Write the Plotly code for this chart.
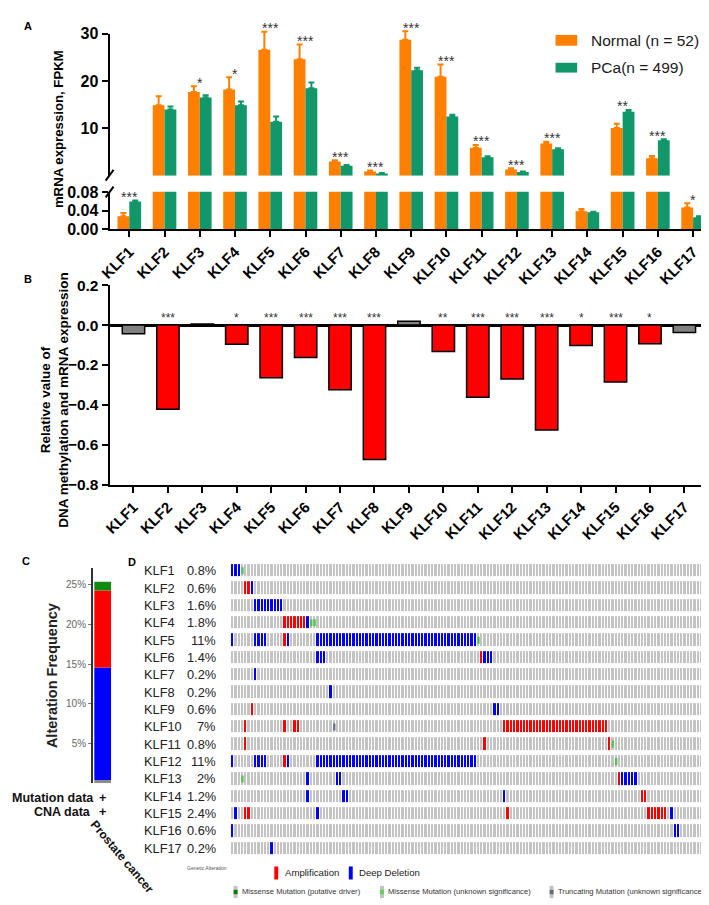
import plotly.graph_objects as go

W, H = 709, 905
FONT = "Liberation Sans, Arial, Helvetica, sans-serif"


def px(x):
    return x / W


def py(y):
    return 1 - y / H


# ---------------- data ----------------
genes = ["KLF1", "KLF2", "KLF3", "KLF4", "KLF5", "KLF6", "KLF7", "KLF8", "KLF9",
         "KLF10", "KLF11", "KLF12", "KLF13", "KLF14", "KLF15", "KLF16", "KLF17"]

# Panel A: mRNA expression (FPKM), mean and SEM
normal_mean = [0.028, 14.9, 17.7, 18.2, 26.6, 24.6, 3.0, 0.9, 28.7, 20.9, 5.9, 1.3, 6.8, 0.039, 10.1, 3.7, 0.047]
normal_sem = [0.007, 1.9, 1.2, 2.6, 3.8, 3.1, 0.3, 0.2, 1.8, 2.6, 0.6, 0.3, 0.4, 0.005, 0.9, 0.5, 0.009]
pca_mean = [0.060, 14.0, 16.5, 14.9, 11.4, 18.5, 2.1, 0.5, 22.3, 12.5, 3.9, 0.8, 5.6, 0.037, 13.5, 7.5, 0.026]
pca_sem = [0.002, 0.6, 0.5, 0.8, 1.1, 1.2, 0.2, 0.1, 0.5, 0.4, 0.2, 0.1, 0.2, 0.001, 0.4, 0.2, 0.002]
a_sig = ["***", "", "*", "*", "***", "***", "***", "***", "***", "***", "***", "***", "***", "", "**", "***", "*"]
legend_names = ["Normal (n = 52)", "PCa(n = 499)"]

# Panel B: relative value of DNA methylation and mRNA expression
b_value = [-0.043, -0.422, 0.005, -0.096, -0.264, -0.163, -0.325, -0.675, 0.019,
           -0.133, -0.362, -0.270, -0.527, -0.102, -0.285, -0.093, -0.037]
b_sig = ["", "***", "", "*", "***", "***", "***", "***", "", "**", "***", "***", "***", "*", "***", "*", ""]
b_signif_gene = [s != "" for s in b_sig]

# Panel C: alteration frequency (%) in prostate cancer
c_alteration = ["Multiple alterations", "Deep Deletion", "Amplification", "Mutation"]
c_freq = [0.4, 14.2, 9.7, 1.1]
c_colors = ["#8c8c8c", "#0000ff", "#ff0000", "#108a10"]
c_ticks = [5, 10, 15, 20, 25]

# Panel D: oncoprint (sample columns with each alteration type)
d_pct = ["0.8%", "0.6%", "1.6%", "1.8%", "11%", "1.4%", "0.2%", "0.2%", "0.6%",
         "7%", "0.8%", "11%", "2%", "1.2%", "2.4%", "0.6%", "0.2%"]
d_amp = [[], [4, 5], [], list(range(16, 23)), [16], [76], [], [], [6],
         [4, 16, 19, 20] + list(range(83, 115)), [4, 77, 115], [16], [118], [125, 126],
         [4, 5, 84] + list(range(127, 133)), [], []]
d_del = [[0, 1, 2], [6], list(range(7, 16)), [23], [0, 7, 8, 9, 10, 17] + list(range(26, 75)),
         [26, 27, 28, 77, 78, 79], [7], [30], [80, 81], [], [],
         [0, 7, 8, 9, 10, 17] + list(range(26, 75)), [23, 32, 33] + list(range(119, 124)),
         [23, 34, 35, 83], [1, 26, 134], [0, 135, 136], [12]]
d_mis = [[3], [], [], [24, 25], [75], [], [], [], [], [], [116], [117], [3], [], [], [], []]
d_trunc = [[], [], [], [], [], [], [], [], [], [31], [], [], [], [], [], [], []]
d_ncols = 148

ORANGE = "#ff8000"
GREEN = "#11976a"

fig = go.Figure()

# ---------------- Panel A ----------------
LOW_MAX = 0.0808
UP_BOTTOM, UP_TOP30 = 162.0, 17.0          # pixel rows of 0 and 30 in the upper segment
UP_PX = (UP_BOTTOM - UP_TOP30) / 30.0      # px per FPKM unit in upper segment
UP_RANGE_MAX = 32.0                        # room for error bars above 30
LOW_PX = 475.0                             # px per FPKM unit in lower segment

idx = list(range(len(genes)))
for mean, sem, col, name, og in [(normal_mean, normal_sem, ORANGE, legend_names[0], "n"),
                                  (pca_mean, pca_sem, GREEN, legend_names[1], "p")]:
    fig.add_trace(go.Bar(
        x=idx, y=mean, marker=dict(color=col, line=dict(width=0)), name=name,
        offsetgroup=og, showlegend=False, xaxis="x", yaxis="y",
        error_y=dict(type="data", array=sem, arrayminus=[0] * len(sem), symmetric=False,
                     color=col, thickness=2, width=3)))
    up = [v if v > LOW_MAX else None for v in mean]
    fig.add_trace(go.Bar(
        x=idx, y=up, marker=dict(color=col, line=dict(width=0)), name=name,
        offsetgroup=og, showlegend=False, xaxis="x2", yaxis="y2",
        error_y=dict(type="data", array=sem, arrayminus=[0] * len(sem), symmetric=False,
                     color=col, thickness=2, width=3)))
# empty trace so that the visible upper axis (x6/y6) is drawn
fig.add_trace(go.Scatter(x=[], y=[], xaxis="x6", yaxis="y6", showlegend=False))

annotations = []
shapes = []

for i, s in enumerate(a_sig):
    if not s:
        continue
    top = max(normal_mean[i] + normal_sem[i], pca_mean[i] + pca_sem[i])
    if top > LOW_MAX:
        annotations.append(dict(x=i, y=top + 3.7 / UP_PX, xref="x2", yref="y2", text=s,
                                showarrow=False, xanchor="center", yanchor="middle",
                                font=dict(family=FONT, size=14, color="#333")))
    else:
        annotations.append(dict(x=i, y=top + 3.7 / LOW_PX, xref="x", yref="y", text=s,
                                showarrow=False, xanchor="center", yanchor="middle",
                                font=dict(family=FONT, size=14, color="#333")))

# legend (manual)
for col, name, y0, y1 in [(ORANGE, legend_names[0], 18.3, 29.3),
                          (GREEN, legend_names[1], 46.7, 56.7)]:
    shapes.append(dict(type="rect", xref="paper", yref="paper", x0=px(545), x1=px(567),
                       y0=py(y1), y1=py(y0), fillcolor=col, line=dict(width=0)))
    annotations.append(dict(x=px(579), y=py((y0 + y1) / 2), xref="paper", yref="paper",
                            text=name, showarrow=False, xanchor="left", yanchor="middle",
                            font=dict(family=FONT, size=15.5, color="#1a1a1a")))

# axis break marks
shapes.append(dict(type="line", xref="paper", yref="paper", x0=px(88), y0=py(167),
                   x1=px(96), y1=py(156), line=dict(color="black", width=2)))
shapes.append(dict(type="line", xref="paper", yref="paper", x0=px(88), y0=py(184),
                   x1=px(96), y1=py(173), line=dict(color="black", width=2)))

annotations.append(dict(x=px(40), y=py(114), xref="paper", yref="paper",
                        text="<b>mRNA expression, FPKM</b>", textangle=-90, showarrow=False,
                        xanchor="center", yanchor="middle",
                        font=dict(family=FONT, size=13.2, color="black")))

# ---------------- Panel B ----------------
b_colors = ["#ff0000" if sg else "#808080" for sg in b_signif_gene]
fig.add_trace(go.Bar(x=idx, y=b_value, width=0.65, xaxis="x3", yaxis="y3",
                     marker=dict(color=b_colors, line=dict(color="black", width=1.5)),
                     showlegend=False))
for i, s in enumerate(b_sig):
    if s:
        annotations.append(dict(x=i, y=0.038, xref="x3", yref="y3", text=s, showarrow=False,
                                xanchor="center", yanchor="middle",
                                font=dict(family=FONT, size=12, color="#333")))
annotations.append(dict(x=px(36), y=py(390), xref="paper", yref="paper",
                        text="<b>Relative value of<br>DNA methylation and mRNA expression</b>",
                        textangle=-90, showarrow=False, xanchor="center", yanchor="middle",
                        font=dict(family=FONT, size=13.5, color="black")))

# ---------------- Panel C ----------------
base = 0
for name, v, col in zip(c_alteration, c_freq, c_colors):
    fig.add_trace(go.Bar(x=[0], y=[v], base=[base], width=0.85, offsetgroup="c",
                         xaxis="x4", yaxis="y4", name=name,
                         marker=dict(color=col, line=dict(width=0)), showlegend=False))
    base += v
annotations.append(dict(x=px(33), y=py(672), xref="paper", yref="paper",
                        text="<b>Alteration Frequency</b>", textangle=-90, showarrow=False,
                        xanchor="center", yanchor="middle",
                        font=dict(family=FONT, size=14.5, color="#222")))
for label, yy, xr in [("Mutation data", 797, 78.5), ("CNA data", 811, 75.5)]:
    annotations.append(dict(x=px(xr), y=py(yy), xref="paper", yref="paper", text="<b>" + label + "</b>",
                            showarrow=False, xanchor="right", yanchor="middle",
                            font=dict(family=FONT, size=12.5, color="#111")))
    annotations.append(dict(x=px(85.3), y=py(yy), xref="paper", yref="paper", text="<b>+</b>",
                            showarrow=False, xanchor="center", yanchor="middle",
                            font=dict(family=FONT, size=12.5, color="#111")))
annotations.append(dict(x=px(105), y=py(857), xref="paper", yref="paper",
                        text="<b>Prostate cancer</b>", textangle=50, showarrow=False,
                        xanchor="center", yanchor="middle",
                        font=dict(family=FONT, size=12, color="#111")))

# ---------------- Panel D ----------------
z = [[0] * d_ncols for _ in genes]
for r in range(len(genes)):
    for c in d_amp[r]:
        z[r][c] = 1
    for c in d_del[r]:
        z[r][c] = 2
fig.add_trace(go.Heatmap(
    z=z, x=list(range(d_ncols)), y=idx, xaxis="x5", yaxis="y5",
    zmin=0, zmax=2, showscale=False, xgap=1, ygap=5,
    colorscale=[[0, "#c3c3c3"], [0.25, "#c3c3c3"], [0.25, "#ff0000"], [0.75, "#ff0000"],
                [0.75, "#0000ff"], [1, "#0000ff"]]))
mx, my = [], []
for r in range(len(genes)):
    for c in d_mis[r]:
        mx.append(c)
        my.append(r)
fig.add_trace(go.Scatter(x=mx, y=my, mode="markers", xaxis="x5", yaxis="y5", showlegend=False,
                         marker=dict(symbol="line-ns", size=5,
                                     line=dict(color="#52c452", width=2.4))))
tx, ty = [], []
for r in range(len(genes)):
    for c in d_trunc[r]:
        tx.append(c)
        ty.append(r)
fig.add_trace(go.Scatter(x=tx, y=ty, mode="markers", xaxis="x5", yaxis="y5", showlegend=False,
                         marker=dict(symbol="line-ns", size=5,
                                     line=dict(color="#687585", width=2.4))))
for r, (g, p) in enumerate(zip(genes, d_pct)):
    annotations.append(dict(x=px(125), y=r, xref="paper", yref="y5", text=g, showarrow=False,
                            xanchor="left", yanchor="middle",
                            font=dict(family=FONT, size=12.8, color="#222")))
    annotations.append(dict(x=px(202.5), y=r, xref="paper", yref="y5", text=p, showarrow=False,
                            xanchor="right", yanchor="middle",
                            font=dict(family=FONT, size=12.8, color="#222")))

# D legend
annotations.append(dict(x=px(213), y=py(868), xref="paper", yref="paper", text="Genetic Alteration",
                        showarrow=False, xanchor="right", yanchor="middle",
                        font=dict(family=FONT, size=5, color="#555")))
for x0, col, label in [(259.3, "#ff0000", "Amplification"), (335, "#0000ff", "Deep Deletion")]:
    shapes.append(dict(type="rect", xref="paper", yref="paper", x0=px(x0), x1=px(x0 + 4),
                       y0=py(880), y1=py(866.7), fillcolor=col, line=dict(width=0)))
    annotations.append(dict(x=px(x0 + 8.4), y=py(873.3), xref="paper", yref="paper", text=label,
                            showarrow=False, xanchor="left", yanchor="middle",
                            font=dict(family=FONT, size=9.6, color="#222")))
for x0, col, label in [(218, "#007a00", "Missense Mutation (putative driver)"),
                       (366.7, "#5fd05f", "Missense Mutation (unknown significance)"),
                       (539, "#666e78", "Truncating Mutation (unknown significance)")]:
    shapes.append(dict(type="rect", xref="paper", yref="paper", x0=px(x0), x1=px(x0 + 4),
                       y0=py(899), y1=py(886.5), fillcolor="#c3c3c3", line=dict(width=0)))
    shapes.append(dict(type="rect", xref="paper", yref="paper", x0=px(x0), x1=px(x0 + 4),
                       y0=py(895), y1=py(890.5), fillcolor=col, line=dict(width=0)))
    annotations.append(dict(x=px(x0 + 6.5), y=py(892.7), xref="paper", yref="paper", text=label,
                            showarrow=False, xanchor="left", yanchor="middle",
                            font=dict(family=FONT, size=7.6, color="#333")))

# panel letters
for t, x, y in [("A", 9, 9), ("B", 9, 267), ("C", 7, 555), ("D", 115, 556)]:
    annotations.append(dict(x=px(x), y=py(y), xref="paper", yref="paper", text="<b>" + t + "</b>",
                            showarrow=False, xanchor="center", yanchor="middle",
                            font=dict(family=FONT, size=11, color="black")))

# ---------------- axes ----------------
tickfont_bold = dict(family=FONT, size=16, color="black", weight="bold")
xlab_font = dict(family=FONT, size=15, color="black", weight="bold")

axis_common = dict(showgrid=False, zeroline=False, showline=True, linecolor="black", linewidth=2,
                   ticks="outside", ticklen=6, tickwidth=2, tickcolor="black", fixedrange=True)

A_X = [px(92), px(703)]
A_XR = [-0.56, 16.51]
layout = dict(
    width=W, height=H, margin=dict(l=0, r=0, t=0, b=0),
    paper_bgcolor="white", plot_bgcolor="rgba(0,0,0,0)",
    barmode="group", bargap=0.33, bargroupgap=0,
    showlegend=False,
    annotations=annotations, shapes=shapes,
    # A lower
    xaxis=dict(axis_common, domain=A_X, anchor="y", range=A_XR,
               tickmode="array", tickvals=idx, ticktext=genes, tickangle=-45, tickfont=xlab_font),
    yaxis=dict(axis_common, domain=[py(216.7), py(178.3)], anchor="x", range=[0, LOW_MAX],
               tickmode="array", tickvals=[0, 0.04, 0.08], ticktext=["0.00", "0.04", "0.08"],
               tickfont=tickfont_bold),
    # A upper (data; invisible axis with headroom for error bars)
    xaxis2=dict(domain=A_X, anchor="y2", range=A_XR, visible=False, fixedrange=True),
    yaxis2=dict(domain=[py(UP_BOTTOM), py(UP_BOTTOM - UP_RANGE_MAX * UP_PX)], anchor="x2",
                range=[0, UP_RANGE_MAX], visible=False, fixedrange=True),
    # A upper (visible axis 0-30)
    xaxis6=dict(domain=A_X, anchor="y6", range=A_XR, visible=False, fixedrange=True),
    yaxis6=dict(axis_common, domain=[py(UP_BOTTOM), py(UP_TOP30)], anchor="x6", range=[0, 30],
                tickmode="array", tickvals=[10, 20, 30], tickfont=tickfont_bold),
    # B
    xaxis3=dict(axis_common, domain=[px(92), px(700)], anchor="y3", range=[-0.694, 16.69],
                tickmode="array", tickvals=idx, ticktext=genes, tickangle=-45, tickfont=xlab_font),
    yaxis3=dict(axis_common, domain=[py(477), py(273.7)], anchor="x3", range=[-0.8, 0.2],
                tickmode="array", tickvals=[-0.8, -0.6, -0.4, -0.2, 0.0, 0.2],
                ticktext=["\u22120.8", "\u22120.6", "\u22120.4", "\u22120.2", "0.0", "0.2"],
                zeroline=True, zerolinecolor="black", zerolinewidth=2.5,
                tickfont=dict(family=FONT, size=15.5, color="black", weight="bold")),
    # C
    xaxis4=dict(domain=[px(75), px(95)], anchor="y4", range=[-0.5, 0.5], visible=False,
                fixedrange=True),
    yaxis4=dict(domain=[py(781.7), py(561.7)], anchor="x4", range=[0, 27.2], showgrid=False,
                zeroline=False, showline=True, linecolor="#333", linewidth=1.5,
                ticks="outside", ticklen=3, tickwidth=1, tickcolor="#777",
                tickmode="array", tickvals=c_ticks, ticktext=[f"{t}%" for t in c_ticks],
                tickfont=dict(family=FONT, size=10, color="#666"), fixedrange=True),
    # D
    xaxis5=dict(domain=[px(215.3), px(708.2)], anchor="y5", range=[-0.5, d_ncols - 0.5],
                visible=False, fixedrange=True),
    yaxis5=dict(domain=[py(857.05), py(556.15)], anchor="x5", range=[16.5, -0.5],
                visible=False, fixedrange=True),
)
fig.update_layout(**layout)

fig.write_html("out.html")
